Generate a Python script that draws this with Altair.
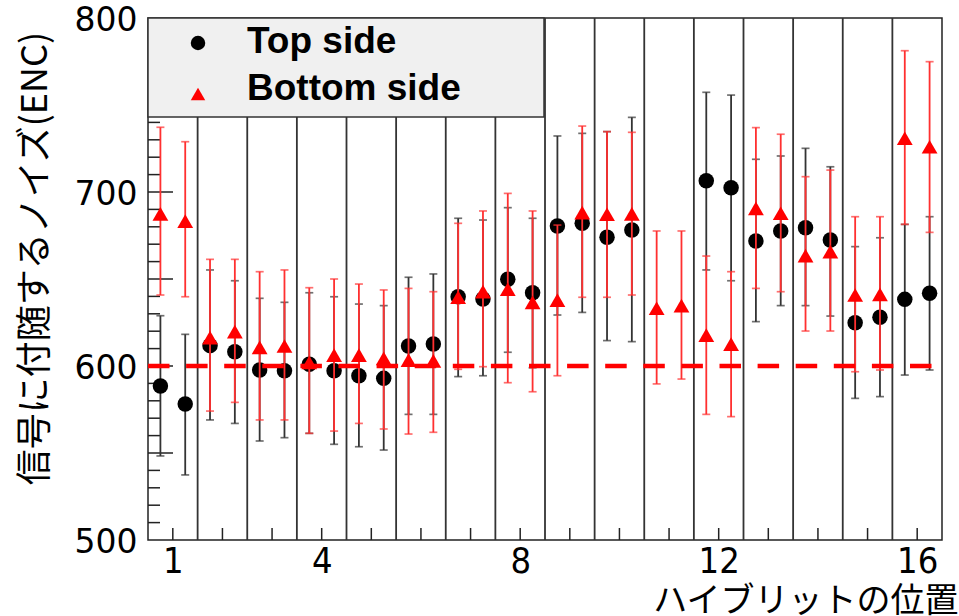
import altair as alt
import pandas as pd

# ---------------- data ----------------
hybrid = list(range(1, 17))
chip_offset = [-0.25, 0.25]

# Top side (black circles): value, lower end, upper end of error bar (None = not shown)
top_val = [588.5, 578.2, 611.7, 608.2, 597.7, 597.3, 601.0, 597.3,
           594.4, 592.9, 611.5, 612.6, 639.8, 638.5, 649.8, 642.1,
           680.5, 682.0, 674.0, 678.2, None, None, 706.5, 702.5,
           671.8, 677.6, 679.5, 672.4, 624.9, 628.0, 638.3, 641.8]
top_lo = [548.3, 537.4, 569.0, 567.0, 556.9, 558.8, 561.3, 555.0,
          553.6, 551.7, 572.2, 572.2, 593.9, 594.4, 607.9, 599.0,
          629.3, 630.8, 614.6, 614.0, None, None, 655.2, 649.0,
          625.5, 634.7, 634.7, 628.7, 581.4, 582.4, 594.8, 597.7]
top_hi = [628.9, 618.2, 655.2, 649.0, 638.9, 636.6, 642.1, 639.8,
          635.6, 634.7, 651.0, 652.9, 684.9, 683.9, 691.0, 684.9,
          732.2, 733.7, 734.7, 742.9, None, None, 757.3, 755.7,
          718.8, 720.7, 725.1, 714.5, 668.6, 673.7, 681.4, 685.8]

# Bottom side (red triangles)
bot_val = [687.4, 683.3, 616.3, 619.7, 610.7, 611.5, 602.0, 606.3,
           606.3, 604.4, 603.4, 603.0, 639.5, 642.7, 644.1, 636.6,
           637.9, 688.1, 687.2, 687.4, 633.2, 634.7, 617.8, 612.6,
           690.6, 687.8, 663.4, 665.7, 640.8, 641.2, 730.9, 726.0]
bot_lo = [640.8, 639.8, 574.1, 579.1, 569.0, 569.0, 561.3, 562.6,
          567.0, 563.8, 560.9, 561.9, 598.1, 599.6, 590.4, 585.2,
          594.4, 639.5, 639.5, 640.8, 589.7, 592.5, 572.2, 570.9,
          644.6, 642.7, 620.1, 620.1, 596.7, 597.7, 681.4, 676.8]
bot_hi = [737.2, 728.9, 661.3, 661.3, 654.2, 655.2, 645.0, 650.0,
          647.1, 643.7, 644.6, 642.7, 682.0, 689.1, 699.2, 689.1,
          681.0, 737.9, 734.7, 734.3, 677.6, 677.6, 663.2, 654.2,
          737.0, 733.2, 708.8, 712.6, 685.8, 685.8, 781.2, 774.9]

reference_level = 600
x_ticks_labelled = [1, 4, 8, 12, 16]
y_ticks_labelled = [500, 600, 700, 800]

# ---------------- tables ----------------
xpos = [h + o for h in hybrid for o in chip_offset]


def side_frame(vals, los, his):
    rows = [dict(x=x, v=v, lo=l, hi=h)
            for x, v, l, h in zip(xpos, vals, los, his) if v is not None]
    return pd.DataFrame(rows)


top_df = side_frame(top_val, top_lo, top_hi)
bot_df = side_frame(bot_val, bot_lo, bot_hi)

sep_df = pd.DataFrame({"x": [h + 0.5 for h in hybrid[:-1]]})
xtick_df = pd.DataFrame({"x": hybrid})
minor_df = pd.DataFrame({"v": [v for v in range(510, 800, 10) if v % 50 != 0]})
major_df = pd.DataFrame({"v": [550, 600, 650, 700, 750]})
ref_df = pd.DataFrame({"x": [0.5], "x2": [16.3], "v": [reference_level]})
one = pd.DataFrame({"k": [0]})

W, H = 794, 522
xs = alt.Scale(domain=[0.5, 16.5], nice=False, zero=False)
ys = alt.Scale(domain=[500, 800], nice=False, zero=False)

AX_X = alt.Axis(values=x_ticks_labelled, ticks=False, domain=False, grid=False,
                labelFont="Liberation Sans Narrow, DejaVu Sans Condensed, sans-serif",
                labelFontSize=36, labelPadding=4, labelFlush=False, labelColor="black",
                title="ハイブリットの位置", titleFont="Noto Sans CJK JP",
                titleFontSize=34, titleFontWeight="normal", titleColor="black",
                titleAnchor="end", titleAlign="right", titleBaseline="alphabetic",
                titleX=810, titleY=71)
AX_Y = alt.Axis(values=y_ticks_labelled, ticks=False, domain=False, grid=False,
                labelFont="DejaVu Sans", labelFontSize=33, labelPadding=11,
                labelColor="black", labelFlush=False, labelBaseline="middle",
                labelOffset=2,
                title="信号に付随するノイズ(ENC)", titleFont="Noto Sans CJK JP",
                titleFontSize=36, titleFontWeight="normal", titleColor="black",
                titleAngle=270, titleAlign="center", titleBaseline="alphabetic",
                titleX=-102, titleY=240)


def XF(field):
    return alt.X(field, type="quantitative", scale=xs, axis=AX_X)


def YF(field):
    return alt.Y(field, type="quantitative", scale=ys, axis=AX_Y)


seps = alt.Chart(sep_df).mark_rule(color="#333", strokeWidth=1.8).encode(x=XF("x"))

xticks = alt.Chart(xtick_df).mark_rule(color="#222", strokeWidth=1.5).encode(
    x=XF("x"), y=alt.value(H - 12), y2=alt.value(H))
yminor = alt.Chart(minor_df).mark_rule(color="#222", strokeWidth=1.5).encode(
    y=YF("v"), x=alt.value(0), x2=alt.value(12))
ymajor = alt.Chart(major_df).mark_rule(color="#222", strokeWidth=1.5).encode(
    y=YF("v"), x=alt.value(0), x2=alt.value(25))


def side_layers(df, color, bar_color, shape, size):
    rules = alt.Chart(df).mark_rule(color=bar_color, strokeWidth=1.8).encode(
        x=XF("x"), y=YF("lo"), y2="hi:Q")
    cap_lo = alt.Chart(df).mark_tick(color=bar_color, orient="horizontal", size=8,
                                     thickness=1.7).encode(x=XF("x"), y=YF("lo"))
    cap_hi = alt.Chart(df).mark_tick(color=bar_color, orient="horizontal", size=8,
                                     thickness=1.7).encode(x=XF("x"), y=YF("hi"))
    pts = alt.Chart(df).mark_point(shape=shape, filled=True, size=size, color=color,
                                   opacity=1).encode(x=XF("x"), y=YF("v"))
    return [rules, cap_lo, cap_hi, pts]


top_layers = side_layers(top_df, "black", "#333333", "circle", 240)
bot_layers = side_layers(bot_df, "#ff0000", "#ff3030", "triangle-up", 250)

ref = alt.Chart(ref_df).mark_rule(color="#ff0000", strokeWidth=4.5,
                                  strokeDash=[21.5, 16.6]).encode(
    x=XF("x"), x2="x2:Q", y=YF("v"))

# legend box (ROOT-style TLegend)
leg_box = alt.Chart(one).mark_rect(fill="#f0f0f0", stroke="#333", strokeWidth=1.5).encode(
    x=alt.value(0), x2=alt.value(396), y=alt.value(0), y2=alt.value(99))
leg_c = alt.Chart(one).mark_point(shape="circle", filled=True, size=210, color="black",
                                  opacity=1).encode(x=alt.value(50), y=alt.value(25))
leg_t = alt.Chart(one).mark_point(shape="triangle-up", filled=True, size=210,
                                  color="#ff0000", opacity=1).encode(
    x=alt.value(50), y=alt.value(76))
leg_txt1 = alt.Chart(one).mark_text(text="Top side", align="left", baseline="alphabetic",
                                    font="Liberation Sans", fontWeight="bold",
                                    fontSize=37, color="black").encode(
    x=alt.value(99), y=alt.value(35))
leg_txt2 = alt.Chart(one).mark_text(text="Bottom side", align="left", baseline="alphabetic",
                                    font="Liberation Sans", fontWeight="bold",
                                    fontSize=37, color="black").encode(
    x=alt.value(99), y=alt.value(82))

chart = alt.layer(
    seps, xticks, yminor, ymajor,
    *top_layers, *bot_layers, ref,
    leg_box, leg_c, leg_t, leg_txt1, leg_txt2,
).properties(
    width=W, height=H,
    autosize=alt.AutoSizeParams(type="none"),
    padding={"left": 148, "top": 18, "right": 17, "bottom": 76},
    background="white",
).configure_view(stroke="#222", strokeWidth=1.5)

chart.save("out.html", embed_options={"renderer": "svg", "actions": False})
